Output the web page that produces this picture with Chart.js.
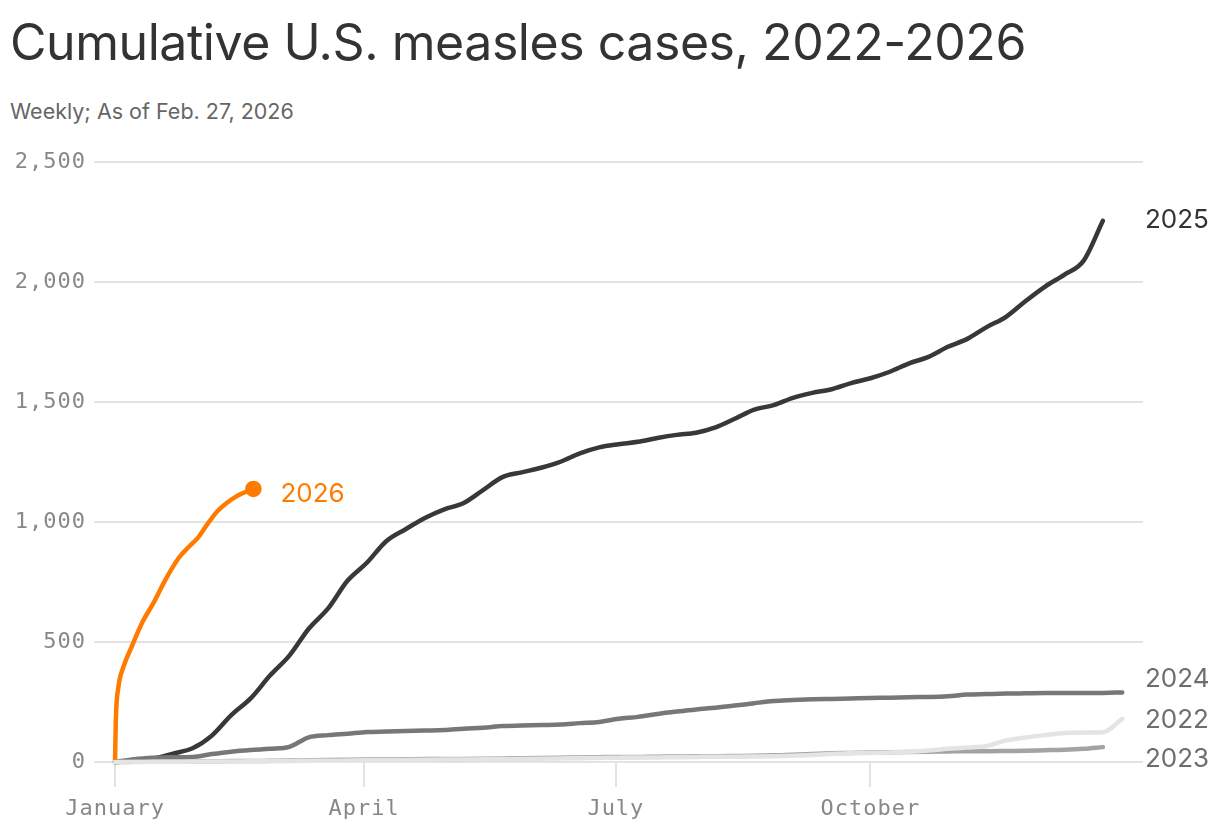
<!DOCTYPE html>
<html>
<head>
<meta charset="utf-8">
<script src="https://cdn.jsdelivr.net/npm/chart.js@4"></script>
<style>
  body { margin: 0; background: #fff; }
  #wrap { position: relative; width: 1220px; height: 832px; }
  h1 { position: absolute; left: 10px; top: 12px; margin: 0; font: 400 50px Inter, sans-serif; color: #333; letter-spacing: -0.45px; }
  .sub { position: absolute; left: 10px; top: 98px; font: 400 21.5px Inter, sans-serif; color: #666; letter-spacing: 0; }
  canvas { position: absolute; left: 0; top: 0; }
</style>
</head>
<body>
<div id="wrap">
  <h1>Cumulative U.S. measles cases, 2022-2026</h1>
  <div class="sub">Weekly; As of Feb. 27, 2026</div>
  <canvas id="chart" width="1220" height="832"></canvas>
</div>
<script>
// weekly cumulative cases, one value per week from Jan 1
const cases2022 = [0,0,1,1,2,2,2,3,3,4, 5,5,6,7,7,8,9,10,10,11, 12,13,14,15,16,17,18,19,19,20,
  21,22,22,23,24,26,29,33,36,38, 40,43,48,55,60,67,90,102,112,121, 123,124,180];
const cases2023 = [0,1,2,3,3,3,4,4,5,6, 7,8,9,10,10,11,12,12,13,14, 15,16,17,18,19,20,21,21,22,23,
  24,24,25,26,28,30,33,36,38,40, 41,42,43,44,45,45,46,47,49,51, 55,62];
const cases2024 = [0,12,18,20,21,33,43,50,55,63, 103,112,118,125,127,129,131,133,139,143,
  150,152,154,156,162,167,180,188,200,210, 219,226,235,245,254,258,261,263,265,267,
  268,270,271,274,281,283,285,286,287,287, 287,288,290];
const cases2025 = [0,5,15,35,57,110,195,265,360,443, 555,640,755,830,920,970,1017,1053,1079,1133,
  1187,1207,1226,1251,1286,1311,1324,1334,1350,1363, 1372,1394,1430,1468,1487,1517,1538,1553,1579,1599,
  1626,1661,1688,1730,1763,1812,1855,1920,1980,2030, 2088,2255];
// 2026 so far (day of year, cumulative cases)
const days2026 = [0, 0.3, 1.2, 3, 6, 10, 14, 18, 23, 27, 30, 33, 37, 44, 50];
const cases2026 = [0, 180, 310, 395, 480, 585, 665, 755, 850, 900, 935, 985, 1045, 1108, 1138];

const monthDays = [0, 90, 181, 273];
const monthNames = ['January', 'April', 'July', 'October'];
const yTicks = [0, 500, 1000, 1500, 2000, 2500];

const weekly = vals => vals.map((v, i) => ({x: i * 7, y: v}));

function series(label, pts, color, width) {
  return {
    label: label,
    data: pts,
    borderColor: color,
    backgroundColor: color,
    borderWidth: width,
    pointRadius: 0,
    cubicInterpolationMode: 'monotone',
    borderCapStyle: 'round',
    borderJoinStyle: 'round',
    clip: false
  };
}

const pts2026 = days2026.map((d, i) => ({x: d, y: cases2026[i]}));
const ds2026 = series('2026', pts2026, '#ff7b00', 4.5);
ds2026.pointRadius = ctx => ctx.dataIndex === pts2026.length - 1 ? 6 : 0;

// wider mono spacing for the axis labels
const spacing = {
  id: 'spacing',
  beforeDraw(chart) { chart.ctx.letterSpacing = '1px'; }
};

// year labels next to line ends
const endLabels = {
  id: 'endLabels',
  afterDatasetsDraw(chart, args, opts) {
    const c = chart.ctx, area = chart.chartArea;
    c.save();
    c.letterSpacing = '0px';
    c.font = '400 26px Inter, sans-serif';
    c.textBaseline = 'middle';
    c.textAlign = 'left';
    opts.items.forEach(it => {
      const meta = chart.getDatasetMeta(it.ds);
      const last = meta.data[meta.data.length - 1];
      const x = it.atEnd ? last.x + it.dx : area.right + it.dx;
      c.fillStyle = it.color;
      c.fillText(chart.data.datasets[it.ds].label, x, last.y + it.dy);
    });
    c.restore();
  }
};

new Chart(document.getElementById('chart'), {
  type: 'line',
  data: {
    datasets: [
      series('2022', weekly(cases2022), '#e4e4e4', 4.5),
      series('2023', weekly(cases2023), '#a3a3a3', 4.5),
      series('2024', weekly(cases2024), '#777777', 4.5),
      series('2025', weekly(cases2025), '#383838', 4.5),
      ds2026
    ]
  },
  options: {
    responsive: false,
    animation: false,
    devicePixelRatio: 1,
    layout: { padding: { top: 162, right: 77, left: 0, bottom: 0 } },
    plugins: {
      legend: { display: false },
      tooltip: { enabled: false },
      endLabels: {
        items: [
          { ds: 3, dx: 2, dy: -1, color: '#333333' },
          { ds: 2, dx: 2, dy: -13, color: '#6e6e6e' },
          { ds: 0, dx: 2, dy: 1, color: '#6e6e6e' },
          { ds: 1, dx: 2, dy: 12, color: '#6e6e6e' },
          { ds: 4, dx: 27, dy: 5, color: '#ff7b00', atEnd: true }
        ]
      }
    },
    scales: {
      x: {
        type: 'linear',
        min: -7.6,
        max: 371.5,
        afterFit: s => { s.height = 70; },
        afterBuildTicks: s => { s.ticks = monthDays.map(v => ({value: v})); },
        border: { display: false },
        grid: { drawOnChartArea: false, drawTicks: true, tickLength: 25, color: '#e3e3e3', lineWidth: 2 },
        ticks: {
          font: { family: 'DejaVu Sans Mono', size: 22 },
          color: '#888',
          padding: 9,
          maxRotation: 0,
          autoSkip: false,
          callback: v => monthNames[monthDays.indexOf(v)]
        }
      },
      y: {
        min: 0,
        max: 2500,
        afterFit: s => { s.width = 94; },
        afterBuildTicks: s => { s.ticks = yTicks.map(v => ({value: v})); },
        border: { display: false },
        grid: { drawTicks: false, color: '#e3e3e3', lineWidth: 2 },
        ticks: {
          font: { family: 'DejaVu Sans Mono', size: 22 },
          color: '#888',
          padding: 8,
          callback: v => v.toLocaleString('en-US')
        }
      }
    }
  },
  plugins: [spacing, endLabels]
});
</script>
</body>
</html>
